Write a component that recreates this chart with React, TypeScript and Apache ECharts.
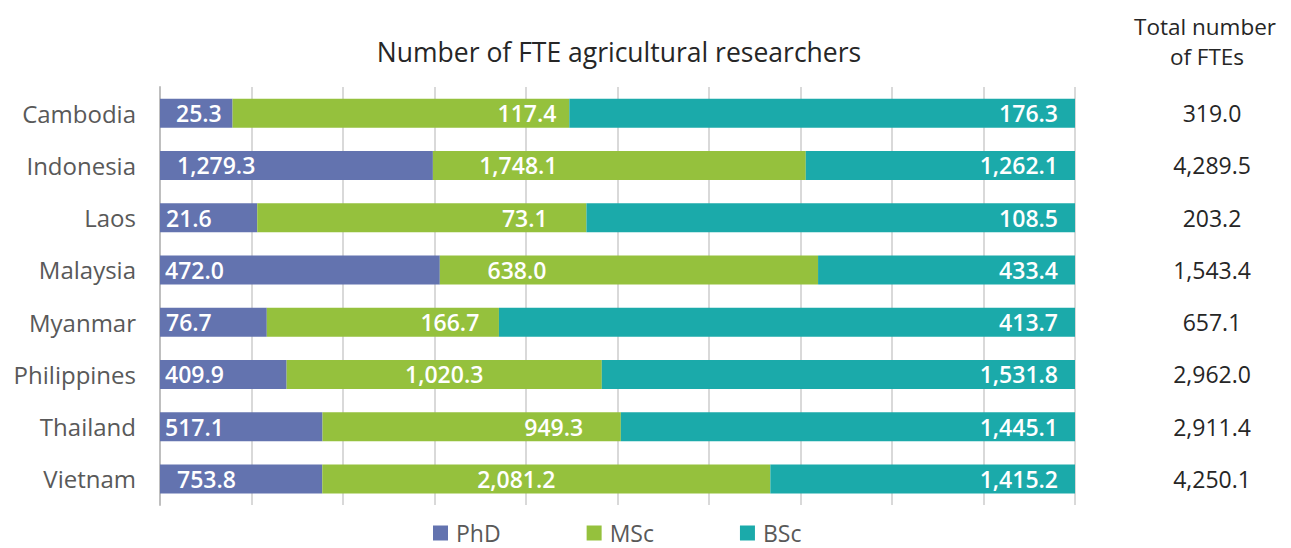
import React, { useEffect, useRef } from "react";
import * as echarts from "echarts";

const countries = ["Cambodia", "Indonesia", "Laos", "Malaysia", "Myanmar", "Philippines", "Thailand", "Vietnam"];
const phd = [25.3, 1279.3, 21.6, 472.0, 76.7, 409.9, 517.1, 753.8];
const msc = [117.4, 1748.1, 73.1, 638.0, 166.7, 1020.3, 949.3, 2081.2];
const bsc = [176.3, 1262.1, 108.5, 433.4, 413.7, 1531.8, 1445.1, 1415.2];
const totals = [319.0, 4289.5, 203.2, 1543.4, 657.1, 2962.0, 2911.4, 4250.1];
const seriesNames = ["PhD", "MSc", "BSc"];

// label styling tweaks (pixel shifts of label text, not data)
const phdLabelPad = [16, 17, 6, 5, 6, 5, 5, 17];
const mscLabelShift = [126, -101, 103, -112, 67, 0, 82, -30];

const COLORS = ["#6373AF", "#95C13D", "#1BAAAA"];
const FONT = "'Open Sans', 'Noto Sans', sans-serif";

const fmt = (v: number) =>
  v.toLocaleString("en-US", { minimumFractionDigits: 1, maximumFractionDigits: 1 });

export default function App() {
  const ref = useRef<HTMLDivElement>(null);
  useEffect(() => {
    document.body.style.margin = "0";
    if (!ref.current) return;
    const chart = echarts.init(ref.current, undefined, { renderer: "svg" });
    const sums = countries.map((_, i) => phd[i] + msc[i] + bsc[i]);
    const labelBase = {
      show: true,
      color: "#ffffff",
      fontFamily: FONT,
      fontSize: 23,
      fontWeight: 600 as any,
      formatter: (p: any) => fmt(p.data.raw),
    };
    const makeSeries = (name: string, arr: number[], idx: number) => ({
      name,
      type: "bar",
      stack: "total",
      barWidth: 29,
      itemStyle: { color: COLORS[idx] },
      emphasis: { disabled: true },
      label:
        idx === 0
          ? { ...labelBase, position: "insideLeft" }
          : idx === 1
          ? { ...labelBase, position: "inside" }
          : { ...labelBase, position: "insideRight", distance: 17 },
      data: arr.map((v, i) => {
        const item: any = { value: (v / sums[i]) * 100, raw: v };
        if (idx === 0) item.label = { distance: phdLabelPad[i] };
        if (idx === 1) item.label = { offset: [mscLabelShift[i], 0] };
        return item;
      }),
    });
    const headStyle = { fontFamily: FONT, fontSize: 22.5, lineHeight: 28, fontWeight: "normal", color: "#262626" };
    chart.setOption({
      animation: false,
      textStyle: { fontFamily: FONT },
      title: [
        {
          text: "Number of FTE agricultural researchers",
          left: 619,
          top: 38,
          padding: 0,
          textAlign: "center",
          textStyle: { fontFamily: FONT, fontSize: 26.5, fontWeight: "normal", color: "#262626" },
        },
        { text: "Total number", left: 1205, top: 12, padding: 0, textAlign: "center", textStyle: headStyle },
        { text: "of FTEs", left: 1207, top: 42, padding: 0, textAlign: "center", textStyle: headStyle },
      ],
      legend: {
        data: seriesNames,
        top: 521,
        padding: 0,
        left: 433,
        itemWidth: 15,
        itemHeight: 15,
        itemGap: 86,
        icon: "rect",
        textStyle: { fontFamily: FONT, fontSize: 23, lineHeight: 24, color: "#595959", padding: [0, 0, 0, 3] },
      },
      grid: { left: 160, right: 216, top: 87, bottom: 43 },
      xAxis: {
        type: "value",
        min: 0,
        max: 100,
        interval: 10,
        axisLabel: { show: false },
        axisLine: { show: false },
        axisTick: { show: false },
        splitLine: { show: true, lineStyle: { color: "#D9D9D9", width: 2 } },
      },
      yAxis: [
        {
          type: "category",
          data: countries,
          inverse: true,
          axisLine: { show: true, lineStyle: { color: "#BFBFBF", width: 2 } },
          axisTick: { show: false },
          axisLabel: { fontFamily: FONT, fontSize: 24, color: "#595959", margin: 24 },
        },
        {
          type: "category",
          data: totals.map(fmt),
          inverse: true,
          position: "right",
          axisLine: { show: false },
          axisTick: { show: false },
          axisLabel: { fontFamily: FONT, fontSize: 23, color: "#262626", margin: 137, align: "center" },
        },
      ],
      series: [
        makeSeries("PhD", phd, 0),
        makeSeries("MSc", msc, 1),
        makeSeries("BSc", bsc, 2),
      ],
    });
    return () => chart.dispose();
  }, []);
  return <div ref={ref} style={{ width: 1291, height: 548 }} />;
}
